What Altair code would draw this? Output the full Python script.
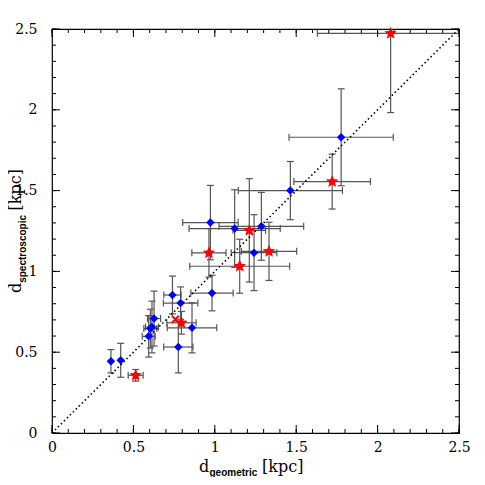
import altair as alt
import pandas as pd

# ---- data (kpc) ----
blue_x = [0.362, 0.422, 0.594, 0.604, 0.614, 0.627, 0.740, 0.790, 0.860, 0.776, 0.983, 0.973, 1.122, 1.286, 1.241, 1.464, 1.776]
blue_y = [0.444, 0.450, 0.598, 0.646, 0.656, 0.708, 0.854, 0.804, 0.651, 0.532, 0.866, 1.302, 1.265, 1.279, 1.116, 1.500, 1.830]
blue_xerr = [0.0, 0.0, 0.04, 0.04, 0.04, 0.04, 0.053, 0.106, 0.152, 0.09, 0.13, 0.17, 0.28, 0.26, 0.14, 0.32, 0.32]
blue_yerr = [0.072, 0.105, 0.128, 0.12, 0.16, 0.17, 0.117, 0.10, 0.155, 0.16, 0.11, 0.23, 0.24, 0.21, 0.235, 0.18, 0.30]

red_x = [0.514, 0.795, 0.964, 1.153, 1.212, 1.333, 1.721, 2.080]
red_y = [0.357, 0.682, 1.115, 1.032, 1.254, 1.124, 1.556, 2.473]
red_xerr = [0.046, 0.09, 0.105, 0.307, 0.10, 0.17, 0.235, 0.45]
red_yerr = [0.036, 0.07, 0.15, 0.167, 0.32, 0.18, 0.17, 0.49]

cross_x = [0.758]
cross_y = [0.704]

diag_vals = [0.0, 2.5]
major_ticks = [0, 0.5, 1, 1.5, 2, 2.5]
minor_ticks = [round(i * 0.1, 1) for i in range(26)]

LO, HI = 0.0, 2.5
W, H = 407, 404

# ---- tables ----
rows = []
for xs_, ys_, xe_, ye_ in [(blue_x, blue_y, blue_xerr, blue_yerr), (red_x, red_y, red_xerr, red_yerr)]:
    for x, y, xe, ye in zip(xs_, ys_, xe_, ye_):
        rows.append(dict(x=x, y=y, xlo=x - xe, xhi=x + xe, ylo=y - ye, yhi=y + ye, xe=xe, ye=ye))
err = pd.DataFrame(rows)

xcaps, ycaps = [], []
for r in rows:
    if r["xe"] > 0:
        for v in (r["xlo"], r["xhi"]):
            if LO <= v <= HI:
                xcaps.append(dict(x=v, y=r["y"]))
    if r["ye"] > 0:
        for v in (r["ylo"], r["yhi"]):
            if LO <= v <= HI:
                ycaps.append(dict(x=r["x"], y=v))
xcaps = pd.DataFrame(xcaps)
ycaps = pd.DataFrame(ycaps)

blue = pd.DataFrame({"x": blue_x, "y": blue_y})
red = pd.DataFrame({"x": red_x, "y": red_y})
cross = pd.DataFrame({"x": cross_x, "y": cross_y})
diag = pd.DataFrame({"x": diag_vals, "y": diag_vals})
majors = pd.DataFrame({"v": major_ticks})
minors = pd.DataFrame({"v": minor_ticks})
one = pd.DataFrame({"a": [0]})

xs = alt.Scale(domain=[LO, HI], nice=False, zero=False)
ys = alt.Scale(domain=[LO, HI], nice=False, zero=False)

LABEL_FONT = "DejaVu Serif"


def main_axis(orient, pad):
    return alt.Axis(orient=orient, values=major_ticks, format="~g", ticks=False, domain=False,
                    grid=False, title=None, labelFont=LABEL_FONT, labelFontSize=14,
                    labelColor="black", labelPadding=pad, labelFlush=False, labelOverlap=False)


ERR_COL = "#555555"

xrules = alt.Chart(err).mark_rule(color=ERR_COL, strokeWidth=1.2, clip=True).encode(
    x=alt.X("xlo:Q", scale=xs, axis=main_axis("bottom", 7)),
    x2="xhi:Q",
    y=alt.Y("y:Q", scale=ys, axis=main_axis("left", 15)),
)
yrules = alt.Chart(err).mark_rule(color=ERR_COL, strokeWidth=1.2, clip=True).encode(
    x=alt.X("x:Q", scale=xs), y=alt.Y("ylo:Q", scale=ys), y2="yhi:Q",
)
xcap = alt.Chart(xcaps).mark_point(shape="M0,-1L0,1", size=49, filled=False, stroke=ERR_COL,
                                   strokeWidth=1.2, opacity=1).encode(
    x=alt.X("x:Q", scale=xs), y=alt.Y("y:Q", scale=ys))
ycap = alt.Chart(ycaps).mark_point(shape="M-1,0L1,0", size=49, filled=False, stroke=ERR_COL,
                                   strokeWidth=1.2, opacity=1).encode(
    x=alt.X("x:Q", scale=xs), y=alt.Y("y:Q", scale=ys))

# inward ticks on all four sides
def xticks(df, length):
    bottom = alt.Chart(df).mark_rule(color="black", strokeWidth=1).encode(
        x=alt.X("v:Q", scale=xs), y=alt.value(H), y2=alt.value(H - length))
    top = alt.Chart(df).mark_rule(color="black", strokeWidth=1).encode(
        x=alt.X("v:Q", scale=xs), y=alt.value(0), y2=alt.value(length))
    return [bottom, top]


def yticks(df, length):
    left = alt.Chart(df).mark_rule(color="black", strokeWidth=1).encode(
        y=alt.Y("v:Q", scale=ys), x=alt.value(0), x2=alt.value(length))
    right = alt.Chart(df).mark_rule(color="black", strokeWidth=1).encode(
        y=alt.Y("v:Q", scale=ys), x=alt.value(W), x2=alt.value(W - length))
    return [left, right]


ticks = xticks(minors, 4) + xticks(majors, 8) + yticks(minors, 4) + yticks(majors, 8)

line = alt.Chart(diag).mark_line(color="black", strokeWidth=1.6, strokeDash=[1.5, 2.7]).encode(
    x=alt.X("x:Q", scale=xs), y=alt.Y("y:Q", scale=ys))
STAR = ("M0,-1L0.264,-0.363L0.951,-0.309L0.427,0.139L0.588,0.809L0,0.45L-0.588,0.809"
        "L-0.427,0.139L-0.951,-0.309L-0.264,-0.363Z")
bpts = alt.Chart(blue).mark_point(shape="diamond", size=72, filled=True, color="#0000ff", opacity=1).encode(
    x=alt.X("x:Q", scale=xs), y=alt.Y("y:Q", scale=ys))
rpts = alt.Chart(red).mark_point(shape=STAR, size=175, filled=True, color="#ff0000", opacity=1).encode(
    x=alt.X("x:Q", scale=xs), y=alt.Y("y:Q", scale=ys))
cpts = alt.Chart(cross).mark_point(shape="M-1,-1L1,1M-1,1L1,-1", size=49, filled=False, stroke="#ff0000",
                                   strokeWidth=2, opacity=1).encode(
    x=alt.X("x:Q", scale=xs), y=alt.Y("y:Q", scale=ys))


def txt(text, x, y, font, size, weight="normal", angle=0):
    return alt.Chart(one).mark_text(text=text, align="left", baseline="alphabetic", font=font,
                                    fontSize=size, fontWeight=weight, angle=angle, color="black").encode(
        x=alt.value(x), y=alt.value(y))


titles = [
    txt("d", 147, 443, LABEL_FONT, 16),
    txt("geometric", 157.5, 447, "Liberation Sans", 10, "bold"),
    txt("[kpc]", 210, 443, LABEL_FONT, 16),
    txt("d", -31, 264, LABEL_FONT, 16, angle=270),
    txt("spectroscopic", -26.5, 253.8, "Liberation Sans", 10, "bold", angle=270),
    txt("[kpc]", -31, 181.5, LABEL_FONT, 16, angle=270),
]

chart = alt.layer(xrules, yrules, xcap, ycap, line, *ticks, bpts, rpts, cpts, *titles).properties(
    width=W, height=H, autosize="none",
    padding={"left": 44, "top": 21, "right": 18, "bottom": 44},
).configure_view(stroke="black", strokeWidth=1.2)

chart.save("out.html", embed_options={"renderer": "svg", "actions": False})
